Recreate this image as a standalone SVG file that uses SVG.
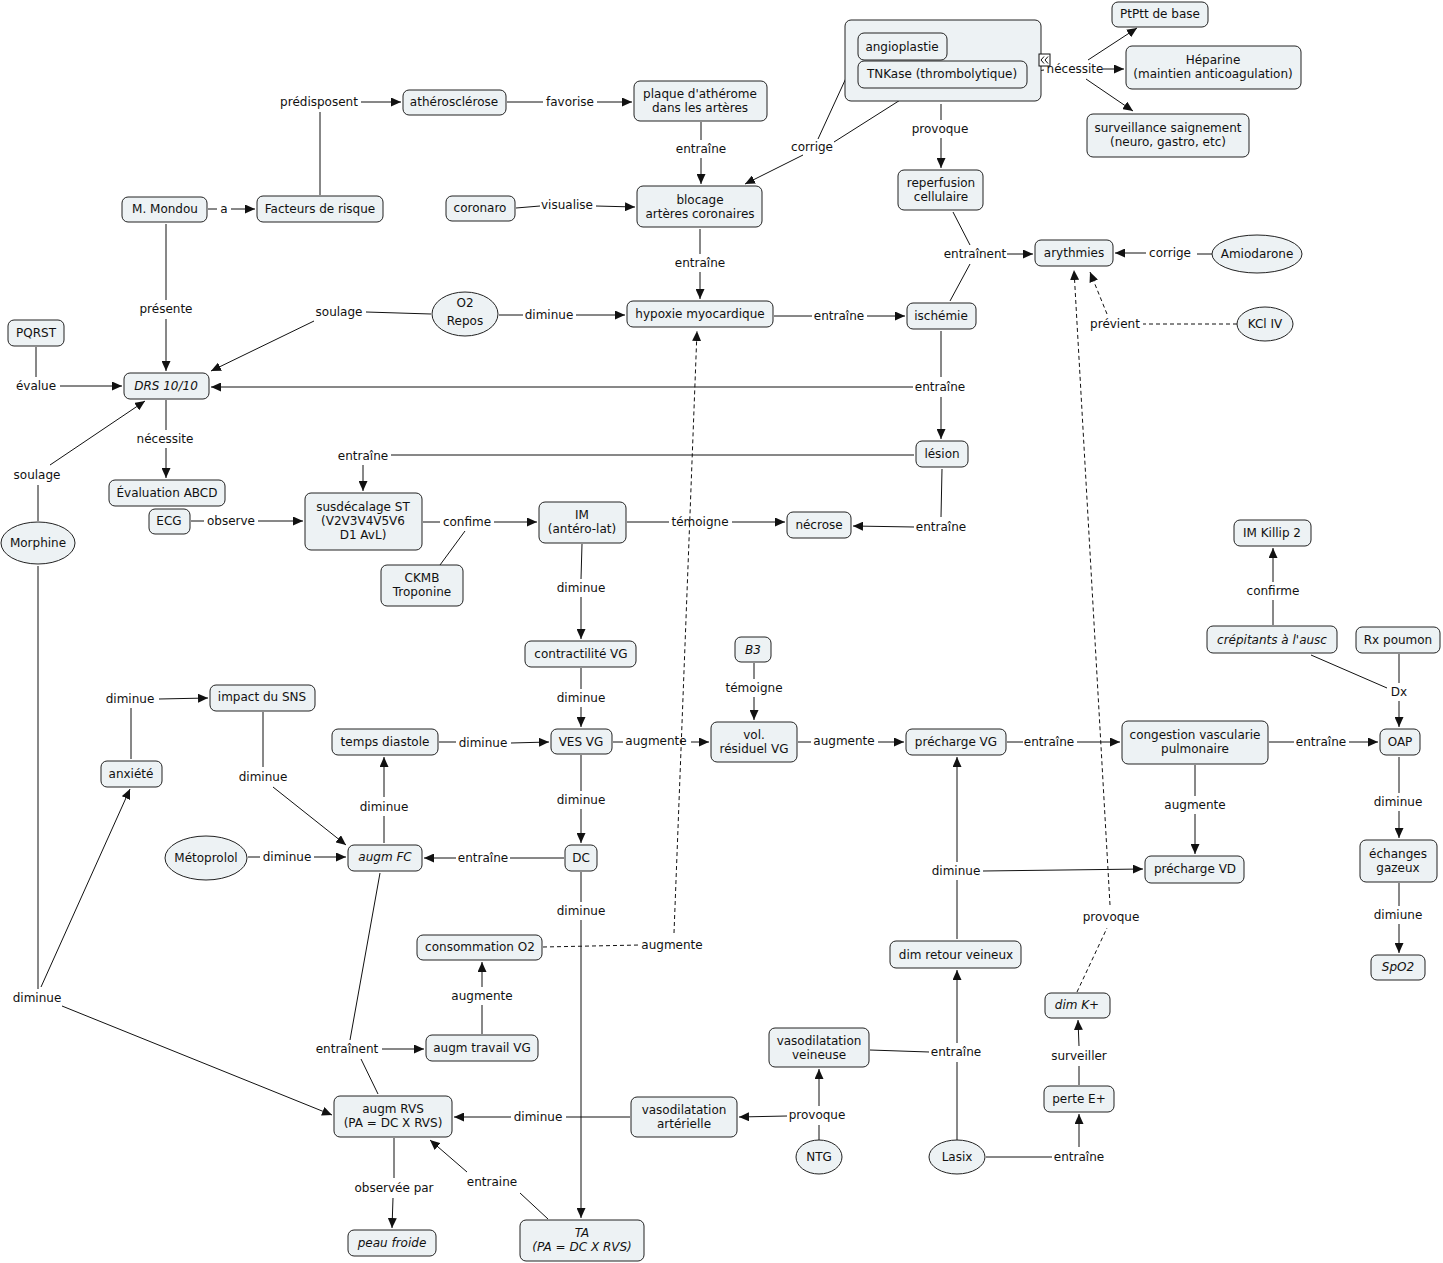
<svg xmlns="http://www.w3.org/2000/svg" width="1443" height="1263" viewBox="0 0 1443 1263">
<style>
.n{fill:#edf2f4;stroke:#222;stroke-width:1}
text{font-family:"DejaVu Sans","Liberation Sans",sans-serif;font-size:12px;fill:#111;text-anchor:middle}
.i{font-style:italic}
.c{fill:none;stroke:#111;stroke-width:1}
.d{stroke-dasharray:4,3}
</style>
<defs>
<marker id="ar" viewBox="0 0 10 9" refX="10" refY="4.5" markerWidth="10" markerHeight="9" markerUnits="userSpaceOnUse" orient="auto"><path d="M0,0 L10,4.5 L0,9 z" fill="#111"/></marker>
</defs>
<rect width="1443" height="1263" fill="#fff"/>

<g id="connectors">
<line class="c" x1="320" y1="195" x2="320" y2="112"/>
<line class="c" x1="361" y1="102" x2="401" y2="102" marker-end="url(#ar)"/>
<line class="c" x1="507" y1="102" x2="543" y2="102"/>
<line class="c" x1="597" y1="102" x2="632" y2="102" marker-end="url(#ar)"/>
<line class="c" x1="208" y1="209" x2="217" y2="209"/>
<line class="c" x1="231" y1="209" x2="255" y2="209" marker-end="url(#ar)"/>
<line class="c" x1="701" y1="122" x2="701" y2="140"/>
<line class="c" x1="701" y1="158" x2="701" y2="184" marker-end="url(#ar)"/>
<line class="c" x1="858" y1="52" x2="818" y2="139"/>
<line class="c" x1="916" y1="90" x2="834" y2="142"/>
<line class="c" x1="803" y1="155" x2="745" y2="184" marker-end="url(#ar)"/>
<line class="c" x1="516" y1="208" x2="540" y2="206"/>
<line class="c" x1="596" y1="206" x2="635" y2="207" marker-end="url(#ar)"/>
<line class="c" x1="1029" y1="72" x2="1044" y2="70"/>
<line class="c" x1="1088" y1="60" x2="1137" y2="28" marker-end="url(#ar)"/>
<line class="c" x1="1103" y1="69" x2="1124" y2="69" marker-end="url(#ar)"/>
<line class="c" x1="1086" y1="79" x2="1133" y2="111" marker-end="url(#ar)"/>
<line class="c" x1="941" y1="104" x2="941" y2="120"/>
<line class="c" x1="941" y1="138" x2="941" y2="168" marker-end="url(#ar)"/>
<line class="c" x1="953" y1="212" x2="970" y2="245"/>
<line class="c" x1="950" y1="301" x2="970" y2="264"/>
<line class="c" x1="1007" y1="254" x2="1033" y2="254" marker-end="url(#ar)"/>
<line class="c" x1="1212" y1="254" x2="1197" y2="254"/>
<line class="c" x1="1146" y1="253" x2="1115" y2="253" marker-end="url(#ar)"/>
<line class="c d" x1="1237" y1="324" x2="1143" y2="324"/>
<line class="c d" x1="1107" y1="314" x2="1090" y2="272" marker-end="url(#ar)"/>
<line class="c d" x1="1077" y1="992" x2="1107" y2="928"/>
<line class="c d" x1="1110" y1="905" x2="1074" y2="270" marker-end="url(#ar)"/>
<line class="c" x1="166" y1="224" x2="166" y2="300"/>
<line class="c" x1="166" y1="319" x2="166" y2="371" marker-end="url(#ar)"/>
<line class="c" x1="431" y1="314" x2="366" y2="312"/>
<line class="c" x1="314" y1="321" x2="211" y2="371" marker-end="url(#ar)"/>
<line class="c" x1="499" y1="315" x2="523" y2="315"/>
<line class="c" x1="576" y1="315" x2="625" y2="315" marker-end="url(#ar)"/>
<line class="c" x1="700" y1="229" x2="700" y2="254"/>
<line class="c" x1="700" y1="272" x2="700" y2="299" marker-end="url(#ar)"/>
<line class="c" x1="774" y1="316" x2="812" y2="316"/>
<line class="c" x1="867" y1="316" x2="905" y2="316" marker-end="url(#ar)"/>
<line class="c" x1="36" y1="347" x2="36" y2="377"/>
<line class="c" x1="60" y1="386" x2="122" y2="386" marker-end="url(#ar)"/>
<line class="c" x1="941" y1="331" x2="941" y2="377"/>
<line class="c" x1="941" y1="397" x2="941" y2="439" marker-end="url(#ar)"/>
<line class="c" x1="913" y1="387" x2="211" y2="387" marker-end="url(#ar)"/>
<line class="c" x1="166" y1="400" x2="166" y2="430"/>
<line class="c" x1="166" y1="448" x2="166" y2="478" marker-end="url(#ar)"/>
<line class="c" x1="38" y1="521" x2="38" y2="485"/>
<line class="c" x1="50" y1="465" x2="145" y2="401" marker-end="url(#ar)"/>
<line class="c" x1="914" y1="455" x2="391" y2="455"/>
<line class="c" x1="363" y1="465" x2="363" y2="491" marker-end="url(#ar)"/>
<line class="c" x1="191" y1="521" x2="204" y2="521"/>
<line class="c" x1="258" y1="521" x2="303" y2="521" marker-end="url(#ar)"/>
<line class="c" x1="423" y1="522" x2="440" y2="522"/>
<line class="c" x1="494" y1="522" x2="537" y2="522" marker-end="url(#ar)"/>
<line class="c" x1="440" y1="565" x2="465" y2="531"/>
<line class="c" x1="627" y1="522" x2="669" y2="522"/>
<line class="c" x1="732" y1="522" x2="785" y2="522" marker-end="url(#ar)"/>
<line class="c" x1="942" y1="469" x2="941" y2="517"/>
<line class="c" x1="914" y1="527" x2="853" y2="526" marker-end="url(#ar)"/>
<line class="c" x1="582" y1="544" x2="581" y2="579"/>
<line class="c" x1="581" y1="597" x2="581" y2="639" marker-end="url(#ar)"/>
<line class="c" x1="581" y1="668" x2="581" y2="689"/>
<line class="c" x1="581" y1="707" x2="581" y2="727" marker-end="url(#ar)"/>
<line class="c" x1="754" y1="663" x2="754" y2="679"/>
<line class="c" x1="754" y1="697" x2="754" y2="720" marker-end="url(#ar)"/>
<line class="c" x1="613" y1="742" x2="623" y2="742"/>
<line class="c" x1="691" y1="742" x2="709" y2="742" marker-end="url(#ar)"/>
<line class="c" x1="798" y1="742" x2="811" y2="742"/>
<line class="c" x1="878" y1="742" x2="904" y2="742" marker-end="url(#ar)"/>
<line class="c" x1="1007" y1="742" x2="1023" y2="742"/>
<line class="c" x1="1077" y1="742" x2="1120" y2="742" marker-end="url(#ar)"/>
<line class="c" x1="1269" y1="742" x2="1294" y2="742"/>
<line class="c" x1="1349" y1="742" x2="1378" y2="742" marker-end="url(#ar)"/>
<line class="c" x1="1273" y1="625" x2="1273" y2="600"/>
<line class="c" x1="1273" y1="582" x2="1273" y2="548" marker-end="url(#ar)"/>
<line class="c" x1="1311" y1="655" x2="1387" y2="688"/>
<line class="c" x1="1399" y1="654" x2="1399" y2="683"/>
<line class="c" x1="1399" y1="701" x2="1399" y2="727" marker-end="url(#ar)"/>
<line class="c" x1="1399" y1="757" x2="1399" y2="793"/>
<line class="c" x1="1399" y1="811" x2="1399" y2="838" marker-end="url(#ar)"/>
<line class="c" x1="1399" y1="883" x2="1399" y2="906"/>
<line class="c" x1="1399" y1="924" x2="1399" y2="953" marker-end="url(#ar)"/>
<line class="c" x1="1195" y1="765" x2="1195" y2="796"/>
<line class="c" x1="1195" y1="814" x2="1195" y2="854" marker-end="url(#ar)"/>
<line class="c" x1="131" y1="759" x2="131" y2="708"/>
<line class="c" x1="159" y1="699" x2="208" y2="698" marker-end="url(#ar)"/>
<line class="c" x1="263" y1="712" x2="263" y2="767"/>
<line class="c" x1="273" y1="787" x2="346" y2="845" marker-end="url(#ar)"/>
<line class="c" x1="439" y1="742" x2="456" y2="742"/>
<line class="c" x1="511" y1="743" x2="549" y2="742" marker-end="url(#ar)"/>
<line class="c" x1="384" y1="843" x2="384" y2="816"/>
<line class="c" x1="384" y1="797" x2="384" y2="757" marker-end="url(#ar)"/>
<line class="c" x1="581" y1="755" x2="581" y2="791"/>
<line class="c" x1="581" y1="809" x2="581" y2="843" marker-end="url(#ar)"/>
<line class="c" x1="564" y1="858" x2="510" y2="858"/>
<line class="c" x1="456" y1="858" x2="424" y2="858" marker-end="url(#ar)"/>
<line class="c" x1="248" y1="857" x2="260" y2="857"/>
<line class="c" x1="314" y1="857" x2="346" y2="857" marker-end="url(#ar)"/>
<line class="c" x1="581" y1="872" x2="581" y2="902"/>
<line class="c" x1="581" y1="920" x2="581" y2="1218" marker-end="url(#ar)"/>
<line class="c d" x1="543" y1="947" x2="640" y2="945"/>
<line class="c d" x1="674" y1="933" x2="697" y2="331" marker-end="url(#ar)"/>
<line class="c" x1="482" y1="1034" x2="482" y2="1005"/>
<line class="c" x1="482" y1="987" x2="482" y2="962" marker-end="url(#ar)"/>
<line class="c" x1="380" y1="873" x2="350" y2="1040"/>
<line class="c" x1="378" y1="1094" x2="361" y2="1059"/>
<line class="c" x1="382" y1="1049" x2="424" y2="1049" marker-end="url(#ar)"/>
<line class="c" x1="38" y1="566" x2="38" y2="989"/>
<line class="c" x1="41" y1="987" x2="130" y2="789" marker-end="url(#ar)"/>
<line class="c" x1="62" y1="1006" x2="332" y2="1115" marker-end="url(#ar)"/>
<line class="c" x1="630" y1="1117" x2="566" y2="1117"/>
<line class="c" x1="511" y1="1117" x2="454" y2="1117" marker-end="url(#ar)"/>
<line class="c" x1="819" y1="1140" x2="819" y2="1125"/>
<line class="c" x1="819" y1="1106" x2="819" y2="1069" marker-end="url(#ar)"/>
<line class="c" x1="787" y1="1116" x2="739" y2="1117" marker-end="url(#ar)"/>
<line class="c" x1="870" y1="1050" x2="929" y2="1052"/>
<line class="c" x1="957" y1="1140" x2="957" y2="1062"/>
<line class="c" x1="957" y1="1043" x2="957" y2="970" marker-end="url(#ar)"/>
<line class="c" x1="957" y1="939" x2="957" y2="880"/>
<line class="c" x1="957" y1="862" x2="957" y2="757" marker-end="url(#ar)"/>
<line class="c" x1="983" y1="871" x2="1143" y2="869" marker-end="url(#ar)"/>
<line class="c" x1="394" y1="1138" x2="394" y2="1178"/>
<line class="c" x1="393" y1="1198" x2="392" y2="1228" marker-end="url(#ar)"/>
<line class="c" x1="548" y1="1219" x2="520" y2="1193"/>
<line class="c" x1="467" y1="1172" x2="430" y2="1140" marker-end="url(#ar)"/>
<line class="c" x1="986" y1="1157" x2="1052" y2="1157"/>
<line class="c" x1="1079" y1="1147" x2="1079" y2="1114" marker-end="url(#ar)"/>
<line class="c" x1="1079" y1="1085" x2="1079" y2="1066"/>
<line class="c" x1="1079" y1="1046" x2="1078" y2="1020" marker-end="url(#ar)"/>
</g>

<g id="labels">
<text x="319" y="106">prédisposent</text>
<text x="570" y="106">favorise</text>
<text x="224" y="213">a</text>
<text x="701" y="153">entraîne</text>
<text x="812" y="151">corrige</text>
<text x="567" y="209">visualise</text>
<text x="1075" y="73">nécessite</text>
<text x="940" y="133">provoque</text>
<text x="975" y="258">entraînent</text>
<text x="1170" y="257">corrige</text>
<text x="1115" y="328">prévient</text>
<text x="1111" y="921">provoque</text>
<text x="166" y="313">présente</text>
<text x="339" y="316">soulage</text>
<text x="549" y="319">diminue</text>
<text x="700" y="267">entraîne</text>
<text x="839" y="320">entraîne</text>
<text x="36" y="390">évalue</text>
<text x="940" y="391">entraîne</text>
<text x="165" y="443">nécessite</text>
<text x="37" y="479">soulage</text>
<text x="363" y="460">entraîne</text>
<text x="231" y="525">observe</text>
<text x="467" y="526">confime</text>
<text x="700" y="526">témoigne</text>
<text x="941" y="531">entraîne</text>
<text x="581" y="592">diminue</text>
<text x="581" y="702">diminue</text>
<text x="754" y="692">témoigne</text>
<text x="656" y="745">augmente</text>
<text x="844" y="745">augmente</text>
<text x="1049" y="746">entraîne</text>
<text x="1321" y="746">entraîne</text>
<text x="1273" y="595">confirme</text>
<text x="1399" y="696">Dx</text>
<text x="1398" y="806">diminue</text>
<text x="1398" y="919">dimiune</text>
<text x="1195" y="809">augmente</text>
<text x="130" y="703">diminue</text>
<text x="263" y="781">diminue</text>
<text x="483" y="747">diminue</text>
<text x="384" y="811">diminue</text>
<text x="581" y="804">diminue</text>
<text x="483" y="862">entraîne</text>
<text x="287" y="861">diminue</text>
<text x="581" y="915">diminue</text>
<text x="672" y="949">augmente</text>
<text x="482" y="1000">augmente</text>
<text x="347" y="1053">entraînent</text>
<text x="37" y="1002">diminue</text>
<text x="538" y="1121">diminue</text>
<text x="817" y="1119">provoque</text>
<text x="956" y="1056">entraîne</text>
<text x="956" y="875">diminue</text>
<text x="394" y="1192">observée par</text>
<text x="492" y="1186">entraine</text>
<text x="1079" y="1161">entraîne</text>
<text x="1079" y="1060">surveiller</text>
</g>

<g id="group-traitement">
<rect class="n" x="845" y="20" width="196" height="81" rx="6"/>
<rect x="1039" y="54" width="11" height="12" fill="#fff" stroke="#111"/>
<polyline points="1044,56.5 1041,60 1044,63.5" fill="none" stroke="#111"/>
<polyline points="1048,56.5 1045,60 1048,63.5" fill="none" stroke="#111"/>
</g>
<g id="angioplastie"><rect class="n" x="858" y="33" width="89" height="27" rx="6"/><text x="902" y="51">angioplastie</text></g>
<g id="tnkase"><rect class="n" x="858" y="61" width="169" height="27" rx="6"/><text x="942" y="78">TNKase (thrombolytique)</text></g>
<g id="ptptt"><rect class="n" x="1112" y="2" width="96" height="25" rx="6"/><text x="1160" y="18">PtPtt de base</text></g>
<g id="heparine"><rect class="n" x="1126" y="46" width="175" height="43" rx="6"/><text x="1213" y="64">Héparine</text><text x="1213" y="78">(maintien anticoagulation)</text></g>
<g id="surveillance"><rect class="n" x="1087" y="114" width="162" height="43" rx="6"/><text x="1168" y="132">surveillance saignement</text><text x="1168" y="146">(neuro, gastro, etc)</text></g>
<g id="plaque"><rect class="n" x="634" y="81" width="133" height="40" rx="6"/><text x="700" y="98">plaque d'athérome</text><text x="700" y="112">dans les artères</text></g>
<g id="atherosclerose"><rect class="n" x="403" y="90" width="103" height="25" rx="6"/><text x="454" y="106">athérosclérose</text></g>
<g id="facteurs"><rect class="n" x="257" y="196" width="126" height="26" rx="6"/><text x="320" y="213">Facteurs de risque</text></g>
<g id="mondou"><rect class="n" x="122" y="197" width="85" height="25" rx="6"/><text x="165" y="213">M. Mondou</text></g>
<g id="coronaro"><rect class="n" x="446" y="196" width="69" height="25" rx="6"/><text x="480" y="212">coronaro</text></g>
<g id="blocage"><rect class="n" x="637" y="186" width="125" height="41" rx="6"/><text x="700" y="204">blocage</text><text x="700" y="218">artères coronaires</text></g>
<g id="reperfusion"><rect class="n" x="898" y="170" width="85" height="40" rx="6"/><text x="941" y="187">reperfusion</text><text x="941" y="201">cellulaire</text></g>
<g id="arythmies"><rect class="n" x="1035" y="240" width="78" height="26" rx="6"/><text x="1074" y="257">arythmies</text></g>
<g id="amiodarone"><ellipse class="n" cx="1257" cy="254" rx="45" ry="19"/><text x="1257" y="258">Amiodarone</text></g>
<g id="kcl"><ellipse class="n" cx="1265" cy="324" rx="28" ry="17"/><text x="1265" y="328">KCl IV</text></g>
<g id="o2"><ellipse class="n" cx="465" cy="314" rx="33" ry="22"/><text x="465" y="307">O2</text><text x="465" y="325">Repos</text></g>
<g id="hypoxie"><rect class="n" x="627" y="301" width="146" height="26" rx="6"/><text x="700" y="318">hypoxie myocardique</text></g>
<g id="ischemie"><rect class="n" x="907" y="303" width="69" height="26" rx="6"/><text x="941" y="320">ischémie</text></g>
<g id="pqrst"><rect class="n" x="8" y="320" width="56" height="26" rx="6"/><text x="36" y="337">PQRST</text></g>
<g id="drs"><rect class="n" x="124" y="373" width="85" height="26" rx="6"/><text class="i" x="166" y="390">DRS 10/10</text></g>
<g id="lesion"><rect class="n" x="916" y="441" width="52" height="26" rx="6"/><text x="942" y="458">lésion</text></g>
<g id="abcd"><rect class="n" x="109" y="480" width="116" height="26" rx="6"/><text x="167" y="497">Évaluation ABCD</text></g>
<g id="ecg"><rect class="n" x="149" y="509" width="41" height="25" rx="6"/><text x="169" y="525">ECG</text></g>
<g id="morphine"><ellipse class="n" cx="38" cy="543" rx="37" ry="21"/><text x="38" y="547">Morphine</text></g>
<g id="susdecalage"><rect class="n" x="305" y="493" width="117" height="57" rx="6"/><text x="363" y="511">susdécalage ST</text><text x="363" y="525">(V2V3V4V5V6</text><text x="363" y="539">D1 AvL)</text></g>
<g id="im"><rect class="n" x="539" y="502" width="87" height="41" rx="6"/><text x="582" y="519">IM</text><text x="582" y="533">(antéro-lat)</text></g>
<g id="necrose"><rect class="n" x="787" y="512" width="64" height="26" rx="6"/><text x="819" y="529">nécrose</text></g>
<g id="ckmb"><rect class="n" x="381" y="565" width="82" height="41" rx="6"/><text x="422" y="582">CKMB</text><text x="422" y="596">Troponine</text></g>
<g id="killip"><rect class="n" x="1234" y="520" width="77" height="26" rx="6"/><text x="1272" y="537">IM Killip 2</text></g>
<g id="contractilite"><rect class="n" x="525" y="641" width="111" height="26" rx="6"/><text x="581" y="658">contractilité VG</text></g>
<g id="b3"><rect class="n" x="735" y="637" width="36" height="25" rx="6"/><text class="i" x="753" y="654">B3</text></g>
<g id="crepitants"><rect class="n" x="1207" y="626" width="130" height="27" rx="6"/><text class="i" x="1272" y="644">crépitants à l'ausc</text></g>
<g id="rx"><rect class="n" x="1356" y="627" width="84" height="26" rx="6"/><text x="1398" y="644">Rx poumon</text></g>
<g id="sns"><rect class="n" x="210" y="685" width="105" height="26" rx="6"/><text x="262" y="701">impact du SNS</text></g>
<g id="diastole"><rect class="n" x="332" y="729" width="106" height="26" rx="6"/><text x="385" y="746">temps diastole</text></g>
<g id="ves"><rect class="n" x="551" y="729" width="61" height="25" rx="6"/><text x="581" y="746">VES VG</text></g>
<g id="volres"><rect class="n" x="711" y="722" width="86" height="40" rx="6"/><text x="754" y="739">vol.</text><text x="754" y="753">résiduel VG</text></g>
<g id="prechargevg"><rect class="n" x="906" y="729" width="100" height="26" rx="6"/><text x="956" y="746">précharge VG</text></g>
<g id="congestion"><rect class="n" x="1122" y="721" width="146" height="43" rx="6"/><text x="1195" y="739">congestion vascularie</text><text x="1195" y="753">pulmonaire</text></g>
<g id="oap"><rect class="n" x="1380" y="729" width="40" height="26" rx="6"/><text x="1400" y="746">OAP</text></g>
<g id="anxiete"><rect class="n" x="101" y="761" width="61" height="26" rx="6"/><text x="131" y="778">anxiété</text></g>
<g id="metoprolol"><ellipse class="n" cx="206" cy="858" rx="41" ry="22"/><text x="206" y="862">Métoprolol</text></g>
<g id="augmfc"><rect class="n" x="348" y="845" width="74" height="26" rx="6"/><text class="i" x="385" y="861">augm FC</text></g>
<g id="dc"><rect class="n" x="565" y="845" width="32" height="26" rx="6"/><text x="581" y="862">DC</text></g>
<g id="prechargevd"><rect class="n" x="1145" y="856" width="99" height="27" rx="6"/><text x="1195" y="873">précharge VD</text></g>
<g id="echanges"><rect class="n" x="1360" y="840" width="77" height="42" rx="6"/><text x="1398" y="858">échanges</text><text x="1398" y="872">gazeux</text></g>
<g id="consommation"><rect class="n" x="417" y="935" width="125" height="25" rx="6"/><text x="480" y="951">consommation O2</text></g>
<g id="retour"><rect class="n" x="890" y="941" width="131" height="27" rx="6"/><text x="956" y="959">dim retour veineux</text></g>
<g id="spo2"><rect class="n" x="1371" y="955" width="54" height="25" rx="6"/><text class="i" x="1398" y="971">SpO2</text></g>
<g id="dimk"><rect class="n" x="1045" y="993" width="65" height="25" rx="6"/><text class="i" x="1077" y="1009">dim K+</text></g>
<g id="vasoveineuse"><rect class="n" x="769" y="1028" width="100" height="39" rx="6"/><text x="819" y="1045">vasodilatation</text><text x="819" y="1059">veineuse</text></g>
<g id="travail"><rect class="n" x="426" y="1035" width="112" height="26" rx="6"/><text x="482" y="1052">augm travail VG</text></g>
<g id="perte"><rect class="n" x="1044" y="1086" width="70" height="26" rx="6"/><text x="1079" y="1103">perte E+</text></g>
<g id="rvs"><rect class="n" x="334" y="1096" width="118" height="41" rx="6"/><text x="393" y="1113">augm RVS</text><text x="393" y="1127">(PA = DC X RVS)</text></g>
<g id="vasoarterielle"><rect class="n" x="631" y="1097" width="106" height="40" rx="6"/><text x="684" y="1114">vasodilatation</text><text x="684" y="1128">artérielle</text></g>
<g id="ntg"><ellipse class="n" cx="819" cy="1157" rx="23" ry="17"/><text x="819" y="1161">NTG</text></g>
<g id="lasix"><ellipse class="n" cx="957" cy="1157" rx="28" ry="17"/><text x="957" y="1161">Lasix</text></g>
<g id="peau"><rect class="n" x="348" y="1230" width="88" height="26" rx="6"/><text class="i" x="392" y="1247">peau froide</text></g>
<g id="ta"><rect class="n" x="520" y="1220" width="124" height="41" rx="6"/><text class="i" x="582" y="1237">TA</text><text class="i" x="582" y="1251">(PA = DC X RVS)</text></g>
</svg>
